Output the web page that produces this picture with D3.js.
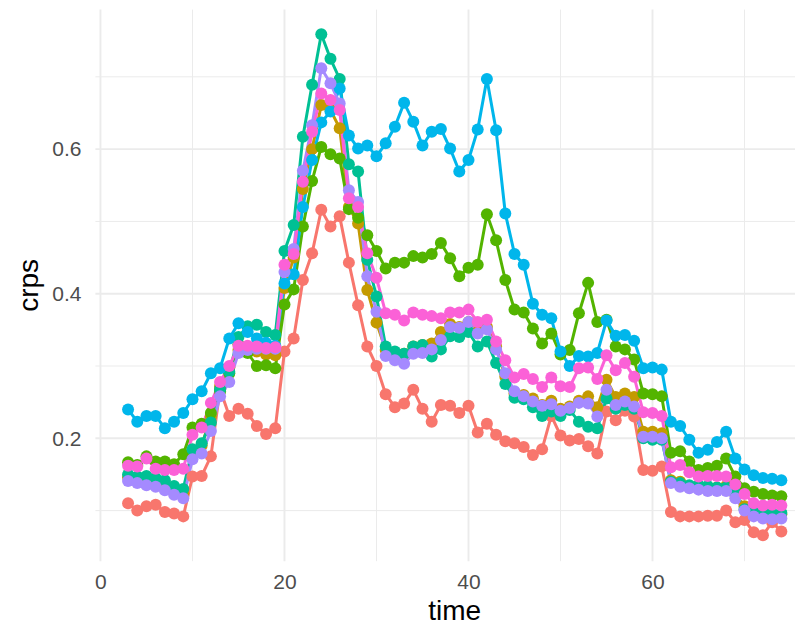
<!DOCTYPE html>
<html>
<head>
<meta charset="utf-8">
<script src="https://cdn.jsdelivr.net/npm/d3@7"></script>
<style>
  body { margin: 0; background: #ffffff; }
  svg { display: block; font-family: "Liberation Sans", Arial, Helvetica, sans-serif; }
</style>
</head>
<body>
<svg id="chart" width="795" height="625"></svg>
<script>
// Time steps (x values)
const time = [3,4,5,6,7,8,9,
  10,11,12,13,14,15,16,17,18,19,
  20,21,22,23,24,25,26,27,28,29,
  30,31,32,33,34,35,36,37,38,39,
  40,41,42,43,44,45,46,47,48,49,
  50,51,52,53,54,55,56,57,58,59,
  60,61,62,63,64,65,66,67,68,69,
  70,71,72,73,74];

// CRPS per model, one array per series
const crps1 = [0.110,0.100,0.106,0.108,0.098,0.096,0.092,
  0.147,0.148,0.175,0.268,0.231,0.241,0.234,0.217,0.206,0.214,
  0.320,0.338,0.419,0.456,0.516,0.493,0.507,0.443,0.384,0.327,
  0.300,0.261,0.243,0.248,0.267,0.241,0.223,0.246,0.245,0.235,
  0.245,0.208,0.220,0.205,0.196,0.193,0.188,0.177,0.185,0.231,
  0.204,0.197,0.199,0.189,0.179,0.237,0.225,0.238,0.230,0.156,
  0.155,0.161,0.098,0.092,0.092,0.092,0.093,0.093,0.100,0.084,
  0.087,0.070,0.066,0.084,0.071];
const crps2 = [0.146,0.145,0.145,0.140,0.137,0.130,0.124,
  0.180,0.190,0.230,0.272,0.298,0.322,0.325,0.320,0.316,0.315,
  0.408,0.450,0.545,0.600,0.661,0.654,0.629,0.520,0.497,0.405,
  0.360,0.322,0.317,0.317,0.327,0.329,0.331,0.347,0.358,0.354,
  0.361,0.347,0.354,0.327,0.285,0.262,0.260,0.255,0.246,0.252,
  0.241,0.244,0.252,0.258,0.243,0.281,0.257,0.262,0.257,0.209,
  0.209,0.207,0.142,0.140,0.134,0.132,0.132,0.132,0.134,0.122,
  0.106,0.097,0.094,0.093,0.095];
const crps3 = [0.167,0.163,0.175,0.168,0.168,0.164,0.178,
  0.215,0.220,0.235,0.265,0.290,0.330,0.318,0.300,0.301,0.297,
  0.385,0.406,0.493,0.556,0.603,0.593,0.587,0.517,0.505,0.481,
  0.459,0.435,0.443,0.443,0.452,0.450,0.455,0.470,0.449,0.424,
  0.436,0.440,0.510,0.474,0.419,0.378,0.374,0.352,0.331,0.345,
  0.316,0.322,0.373,0.415,0.361,0.364,0.327,0.323,0.309,0.262,
  0.261,0.258,0.180,0.182,0.168,0.156,0.159,0.162,0.172,0.147,
  0.131,0.126,0.123,0.121,0.120];
const crps4 = [0.150,0.147,0.148,0.145,0.142,0.134,0.130,
  0.185,0.193,0.222,0.268,0.292,0.340,0.355,0.357,0.347,0.343,
  0.459,0.495,0.617,0.689,0.759,0.725,0.697,0.579,0.569,0.447,
  0.396,0.327,0.320,0.317,0.327,0.329,0.313,0.323,0.341,0.340,
  0.347,0.327,0.334,0.304,0.275,0.256,0.254,0.243,0.231,0.237,
  0.231,0.239,0.223,0.216,0.214,0.255,0.241,0.246,0.241,0.200,
  0.198,0.198,0.140,0.138,0.135,0.135,0.134,0.132,0.132,0.124,
  0.102,0.098,0.098,0.096,0.097];
const crps5 = [0.240,0.223,0.231,0.231,0.214,0.223,0.235,
  0.254,0.265,0.290,0.297,0.338,0.359,0.347,0.338,0.332,0.328,
  0.414,0.427,0.520,0.585,0.637,0.652,0.684,0.619,0.601,0.605,
  0.590,0.608,0.631,0.664,0.638,0.605,0.624,0.628,0.601,0.569,
  0.585,0.627,0.697,0.626,0.511,0.455,0.440,0.386,0.371,0.366,
  0.320,0.300,0.314,0.313,0.318,0.363,0.342,0.343,0.335,0.297,
  0.298,0.295,0.223,0.217,0.198,0.180,0.184,0.195,0.209,0.172,
  0.157,0.149,0.145,0.144,0.142];
const crps6 = [0.141,0.138,0.135,0.133,0.128,0.122,0.117,
  0.171,0.179,0.210,0.258,0.278,0.318,0.322,0.324,0.324,0.324,
  0.430,0.462,0.570,0.633,0.712,0.691,0.663,0.543,0.527,0.424,
  0.375,0.314,0.308,0.303,0.317,0.318,0.323,0.336,0.354,0.353,
  0.361,0.345,0.351,0.323,0.290,0.265,0.258,0.251,0.245,0.247,
  0.238,0.242,0.249,0.248,0.230,0.267,0.246,0.251,0.244,0.202,
  0.202,0.200,0.138,0.133,0.131,0.129,0.127,0.127,0.127,0.117,
  0.100,0.092,0.089,0.088,0.089];
const crps7 = [0.162,0.161,0.172,0.158,0.156,0.156,0.158,
  0.205,0.215,0.249,0.278,0.300,0.328,0.328,0.327,0.325,0.326,
  0.440,0.455,0.555,0.624,0.677,0.668,0.654,0.532,0.520,0.456,
  0.422,0.373,0.371,0.363,0.374,0.371,0.369,0.366,0.374,0.374,
  0.378,0.361,0.364,0.334,0.308,0.284,0.289,0.282,0.271,0.284,
  0.272,0.271,0.297,0.298,0.282,0.315,0.294,0.304,0.285,0.236,
  0.235,0.231,0.160,0.163,0.153,0.147,0.148,0.148,0.147,0.136,
  0.123,0.110,0.107,0.108,0.107];

const seriesValues = [crps1, crps2, crps3, crps4, crps5, crps6, crps7];
const seriesColors = ["#F8766D", "#C49A00", "#53B400", "#00C094", "#00B6EB", "#A58AFF", "#FB61D7"];

// Axis breaks and labels
const xMajor = [0, 20, 40, 60];
const xMinor = [10, 30, 50, 70];
const xLabels = ["0", "20", "40", "60"];
const yMajor = [0.2, 0.4, 0.6];
const yMinor = [0.1, 0.3, 0.5, 0.7];
const yLabels = ["0.2", "0.4", "0.6"];

const panel = { left: 95.4, right: 814, top: 9.6, bottom: 561.2 };

const x = d3.scaleLinear().domain([-0.55, 77.55]).range([panel.left, panel.right]);
const y = d3.scaleLinear().domain([0.03, 0.793]).range([panel.bottom, panel.top]);

const svg = d3.select("#chart");
svg.append("rect").attr("width", 795).attr("height", 625).attr("fill", "#ffffff");

// Grid
const grid = svg.append("g").attr("class", "grid");
grid.selectAll("line.vmin").data(xMinor).join("line")
  .attr("x1", d => x(d)).attr("x2", d => x(d))
  .attr("y1", panel.top).attr("y2", panel.bottom)
  .attr("stroke", "#EBEBEB").attr("stroke-width", 1);
grid.selectAll("line.hmin").data(yMinor).join("line")
  .attr("x1", panel.left).attr("x2", panel.right)
  .attr("y1", d => y(d)).attr("y2", d => y(d))
  .attr("stroke", "#EBEBEB").attr("stroke-width", 1);
grid.selectAll("line.vmaj").data(xMajor).join("line")
  .attr("x1", d => x(d)).attr("x2", d => x(d))
  .attr("y1", panel.top).attr("y2", panel.bottom)
  .attr("stroke", "#EBEBEB").attr("stroke-width", 1.9);
grid.selectAll("line.hmaj").data(yMajor).join("line")
  .attr("x1", panel.left).attr("x2", panel.right)
  .attr("y1", d => y(d)).attr("y2", d => y(d))
  .attr("stroke", "#EBEBEB").attr("stroke-width", 1.9);

// Axes (labels only, no ticks or domain line)
const xAxis = d3.axisBottom(x).tickValues(xMajor).tickFormat((d, i) => xLabels[i])
  .tickSize(0).tickPadding(13);
const gx = svg.append("g").attr("transform", `translate(0,${panel.bottom})`).call(xAxis);
const yAxis = d3.axisLeft(y).tickValues(yMajor).tickFormat((d, i) => yLabels[i])
  .tickSize(0).tickPadding(14);
const gy = svg.append("g").attr("transform", `translate(${panel.left},0)`).call(yAxis);
[gx, gy].forEach(g => {
  g.select(".domain").remove();
  g.selectAll("text").attr("fill", "#4D4D4D").style("font-size", "21px")
    .style("font-family", "'Liberation Sans', Arial, sans-serif");
});

// Axis titles
svg.append("text").attr("x", (panel.left + panel.right) / 2).attr("y", 620)
  .attr("text-anchor", "middle").attr("fill", "#000").style("font-size", "28px").text("time");
svg.append("text").attr("transform", `translate(38,${(panel.top + panel.bottom) / 2}) rotate(-90)`)
  .attr("text-anchor", "middle").attr("fill", "#000").style("font-size", "28px").text("crps");

// Lines, then points
const line = d3.line().x((d, i) => x(time[i])).y(d => y(d));
const plot = svg.append("g");
plot.selectAll("path.series").data(seriesValues).join("path")
  .attr("class", "series")
  .attr("d", d => line(d))
  .attr("fill", "none")
  .attr("stroke", (d, i) => seriesColors[i])
  .attr("stroke-width", 3)
  .attr("stroke-linejoin", "round");

seriesValues.forEach((vals, s) => {
  plot.append("g").selectAll("circle").data(vals).join("circle")
    .attr("cx", (d, i) => x(time[i]))
    .attr("cy", d => y(d))
    .attr("r", 6)
    .attr("fill", seriesColors[s]);
});
</script>
</body>
</html>
